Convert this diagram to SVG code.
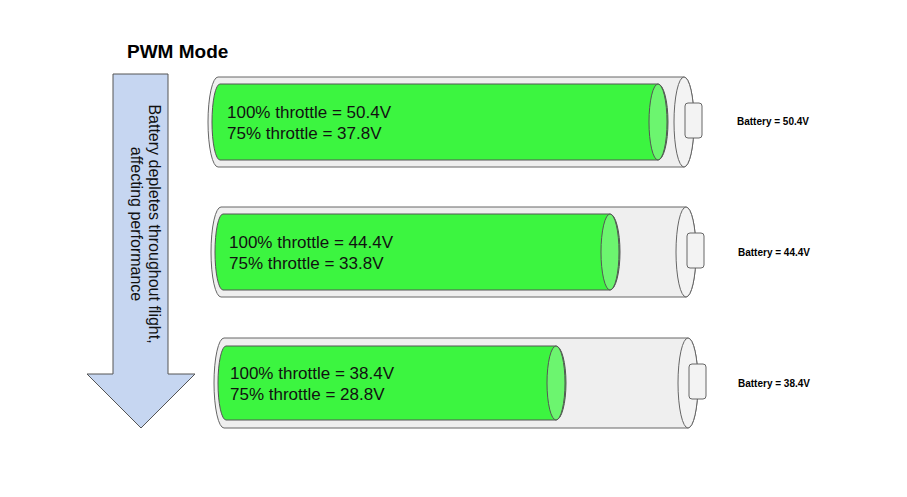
<svg xmlns="http://www.w3.org/2000/svg" width="907" height="497" viewBox="0 0 907 497">
<style>
.body{fill:#efefef;stroke:#666;stroke-width:1}
.cap{fill:#f3f3f3;stroke:#666;stroke-width:1}
.green{fill:#3cf540;stroke:#555;stroke-width:1}
.gend{fill:#6cf56f;stroke:#555;stroke-width:1}
.t{font-family:"Liberation Sans",Arial,sans-serif;font-size:17px;fill:#111}
.s{font-family:"Liberation Sans",Arial,sans-serif;font-size:10px;font-weight:bold;fill:#000}
</style>
<rect width="907" height="497" fill="#fff"/>
<text x="127" y="58" font-family="Liberation Sans,Arial,sans-serif" font-size="19" font-weight="bold">PWM Mode</text>
<g id="arrow">
<path d="M113,74 H168 V374 H195 L141,428 L87,374 H113 Z" fill="#c6d6f1" stroke="#555" stroke-width="1"/>
<text transform="translate(144,224) rotate(90)" text-anchor="middle" font-family="Liberation Sans,Arial,sans-serif" font-size="16" fill="#111"><tspan x="0" y="-5">Battery depletes throughout flight,</tspan><tspan x="0" y="13">affecting performance</tspan></text>
</g>
<g id="battery1">
<path class="body" d="M218,77 H684 A10,45 0 0 1 684,167 H218 A10,45 0 0 1 218,77 Z"/>
<ellipse class="cap" cx="684" cy="122" rx="10" ry="45"/>
<rect class="cap" x="685" y="103" width="17" height="35" rx="3"/>
<path class="green" d="M220,84 H658 A10,38 0 0 1 658,160 H220 A8,38 0 0 1 220,84 Z"/>
<ellipse class="gend" cx="658" cy="122" rx="9" ry="38"/>
<text class="t" x="227" y="118">100% throttle = 50.4V</text>
<text class="t" x="227" y="139">75% throttle = 37.8V</text>
<text class="s" x="737" y="125">Battery = 50.4V</text>
</g>
<g id="battery2">
<path class="body" d="M221,207 H686 A10,45 0 0 1 686,297 H221 A10,45 0 0 1 221,207 Z"/>
<ellipse class="cap" cx="686" cy="252" rx="10" ry="45"/>
<rect class="cap" x="687" y="233" width="17" height="35" rx="3"/>
<path class="green" d="M223,214 H610 A10,38 0 0 1 610,290 H223 A8,38 0 0 1 223,214 Z"/>
<ellipse class="gend" cx="610" cy="252" rx="9" ry="38"/>
<text class="t" x="229" y="248">100% throttle = 44.4V</text>
<text class="t" x="229" y="269">75% throttle = 33.8V</text>
<text class="s" x="738" y="256">Battery = 44.4V</text>
</g>
<g id="battery3">
<path class="body" d="M224,338 H688 A10,45 0 0 1 688,428 H224 A10,45 0 0 1 224,338 Z"/>
<ellipse class="cap" cx="688" cy="383" rx="10" ry="45"/>
<rect class="cap" x="689" y="364" width="17" height="35" rx="3"/>
<path class="green" d="M226,346 H556 A10,37 0 0 1 556,420 H226 A8,37 0 0 1 226,346 Z"/>
<ellipse class="gend" cx="556" cy="383" rx="9" ry="37"/>
<text class="t" x="230" y="379">100% throttle = 38.4V</text>
<text class="t" x="230" y="400">75% throttle = 28.8V</text>
<text class="s" x="738" y="387">Battery = 38.4V</text>
</g>
<g id="connectors"/>
</svg>
